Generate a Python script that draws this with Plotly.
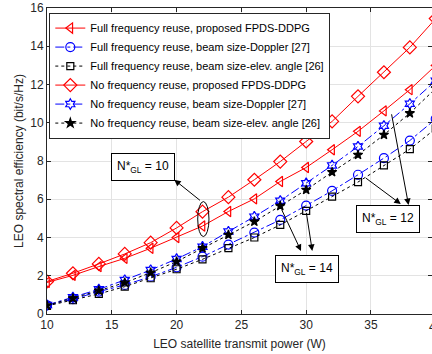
import plotly.graph_objects as go

power = [10, 12, 14, 16, 18, 20, 22, 24, 26, 28, 30, 32, 34, 36, 38, 40]

full_fpds = [1.65, 2.02, 2.48, 2.91, 3.44, 4.0, 4.6, 5.36, 6.02, 6.93, 7.66, 8.59, 9.55, 10.62, 11.73, 13.0]
full_doppler = [0.45, 0.78, 1.17, 1.52, 1.95, 2.44, 3.0, 3.63, 4.26, 4.92, 5.67, 6.44, 7.28, 8.15, 9.07, 10.2]
full_elev = [0.42, 0.72, 1.05, 1.43, 1.87, 2.34, 2.86, 3.44, 4.0, 4.66, 5.39, 6.14, 6.9, 7.77, 8.62, 9.7]
no_fpds = [1.7, 2.13, 2.62, 3.14, 3.73, 4.5, 5.35, 6.11, 7.02, 7.97, 9.02, 10.07, 11.38, 12.64, 13.94, 15.45]
no_doppler = [0.47, 0.87, 1.29, 1.78, 2.3, 2.88, 3.52, 4.31, 5.09, 5.92, 6.84, 7.77, 8.76, 9.84, 10.99, 12.2]
no_elev = [0.45, 0.82, 1.22, 1.64, 2.16, 2.74, 3.44, 4.14, 4.83, 5.65, 6.49, 7.42, 8.32, 9.37, 10.5, 11.8]

names = [
    "Full frequency reuse, proposed FPDS-DDPG",
    "Full frequency reuse, beam size-Doppler [27]",
    "Full frequency reuse, beam size-elev. angle [26]",
    "No frequency reuse, proposed FPDS-DDPG",
    "No frequency reuse, beam size-Doppler [27]",
    "No frequency reuse, beam size-elev. angle [26]",
]

series = [full_fpds, full_doppler, full_elev, no_fpds, no_doppler, no_elev]
styles = [
    dict(color="#ff0000", dash="solid", symbol="triangle-left-open", size=9),
    dict(color="#0000ff", dash="dashdot", symbol="circle-open", size=9),
    dict(color="#000000", dash="dot", symbol="square-open", size=7),
    dict(color="#ff0000", dash="solid", symbol="diamond-open", size=10),
    dict(color="#0000ff", dash="dashdot", symbol="hexagram-open", size=8),
    dict(color="#000000", dash="dot", symbol="star", size=7),
]

fig = go.Figure()
for name, ys, st in zip(names, series, styles):
    fig.add_trace(go.Scatter(
        x=power, y=ys, name=name, mode="lines+markers",
        line=dict(color=st["color"], width=1, dash=st["dash"]),
        marker=dict(symbol=st["symbol"], size=st["size"], color=st["color"],
                    line=dict(color=st["color"], width=1.2)),
    ))

axis_color = "#262626"
grid_color = "#e3e3e3"
font_family = "Liberation Sans, Arial, sans-serif"

fig.update_layout(
    width=432, height=354,
    margin=dict(l=47, r=0, t=8, b=40, autoexpand=False),
    paper_bgcolor="white", plot_bgcolor="white",
    font=dict(family=font_family, size=12, color=axis_color),
    showlegend=True,
    legend=dict(
        x=0.006, y=0.985, xanchor="left", yanchor="top",
        bgcolor="white", bordercolor=axis_color, borderwidth=1,
        font=dict(size=11, color="#000000"),
        itemwidth=30, tracegroupgap=0,
    ),
    xaxis=dict(
        range=[10, 39.71], tickmode="array", tickvals=[10, 15, 20, 25, 30, 35, 40],
        showgrid=True, gridcolor=grid_color, gridwidth=1,
        showline=True, linecolor=axis_color, linewidth=1, mirror="ticks",
        ticks="inside", ticklen=4, tickcolor=axis_color,
        zeroline=False, automargin=True,
        title=dict(text="LEO satellite transmit power (W)", font=dict(size=12), standoff=8),
        tickfont=dict(size=12),
    ),
    yaxis=dict(
        range=[0, 16], tickmode="array", tickvals=[0, 2, 4, 6, 8, 10, 12, 14, 16],
        showgrid=True, gridcolor=grid_color, gridwidth=1,
        showline=True, linecolor=axis_color, linewidth=1, mirror="ticks",
        ticks="inside", ticklen=4, tickcolor=axis_color,
        zeroline=False, automargin=True,
        title=dict(text="LEO spectral efficiency (bit/s/Hz)", font=dict(size=12), standoff=4),
        tickfont=dict(size=12),
    ),
)

# partially visible "40" tick label beyond the right edge
fig.add_annotation(x=1.0098, y=0, xref="paper", yref="paper", text="40",
                   showarrow=False, xanchor="center", yanchor="top", yshift=-4,
                   font=dict(size=12, color=axis_color))

# ellipse around the N*GL = 10 pair
fig.add_shape(type="circle", xref="x", yref="y", x0=21.63, x1=22.5, y0=4.05, y1=5.88,
              line=dict(color="black", width=1))

box_style = dict(showarrow=False, bordercolor="black", borderwidth=1, bgcolor="white",
                 font=dict(size=12, color="black"), borderpad=5)
fig.add_annotation(x=17.38, y=7.70, xref="x", yref="y", text="N*<sub>GL</sub> = 10", **box_style)
fig.add_annotation(x=36.34, y=4.95, xref="x", yref="y", text="N*<sub>GL</sub> = 12", **box_style)
fig.add_annotation(x=30.03, y=2.33, xref="x", yref="y", text="N*<sub>GL</sub> = 14", **box_style)

arrows = [
    ((21.92, 5.88), (19.82, 7.02)),
    ((34.48, 7.17), (37.30, 5.75)),
    ((36.57, 10.52), (37.90, 5.70)),
    ((28.06, 5.53), (29.60, 3.30)),
    ((30.00, 5.36), (30.47, 3.30)),
]
for (tx, ty), (hx, hy) in arrows:
    fig.add_annotation(x=hx, y=hy, ax=tx, ay=ty, xref="x", yref="y", axref="x", ayref="y",
                       text="", showarrow=True, arrowhead=2, arrowsize=1.3, arrowwidth=1,
                       arrowcolor="black", standoff=0)

fig.write_html("out.html", config={"displayModeBar": False},
               post_script="document.body.style.margin='0px';document.body.style.overflow='hidden';")
